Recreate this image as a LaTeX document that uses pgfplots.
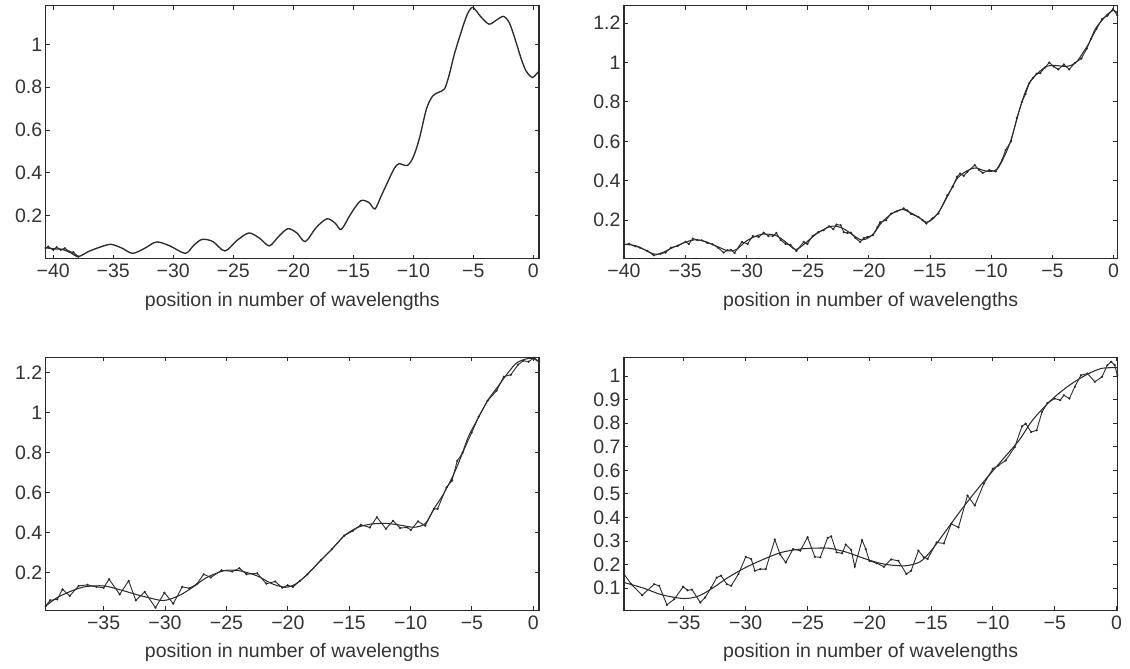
\documentclass[border=0pt]{standalone}
\usepackage{pgfplots}
\pgfplotsset{compat=1.18}
\usepackage{fontspec}
\setmainfont{Liberation Sans}
\definecolor{ink}{HTML}{2b2b2b}
\definecolor{txt}{HTML}{333333}

\pgfplotsset{
  panel/.style={
    scale only axis, width=493.3pt, height=253pt,
    anchor=north west,
    axis line style={ink, line width=1.3pt},
    every tick/.style={ink, line width=1pt},
    major tick length=4pt,
    tick align=inside,
    font=\fontsize{19.5}{23}\selectfont,
    ticklabel style={text=txt, font=\fontsize{19.5}{23}\selectfont},
    xticklabel style={yshift=-2pt},
    xlabel={position in number of wavelengths},
    xlabel style={text=txt, font=\fontsize{19.5}{23}\selectfont, yshift=-7pt},
    axis on top,
  },
  sm/.style={ink, line width=1.05pt, smooth, tension=0.5, no marks},
  nz/.style={ink, line width=0.9pt, sharp plot, mark=*, mark size=0.6pt, mark options={ink}},
}

\begin{document}
\begin{tikzpicture}[x=1pt,y=1pt]
\path[use as bounding box] (0,0) rectangle (1130,-669);

% ---------------- Panel 1 ----------------
\begin{axis}[panel, at={(45.7pt,-5.7pt)},
  xmin=-40.63, xmax=0.47, ymin=0, ymax=1.18,
  xtick={-40,-35,-30,-25,-20,-15,-10,-5,0},
  xticklabels={−40,−35,−30,−25,−20,−15,−10,−5,0},
  ytick={0.2,0.4,0.6,0.8,1},
  yticklabels={0.2,0.4,0.6,0.8,1}]
\addplot[sm, line width=1.35pt] coordinates {
(-40.63,0.052) (-40,0.046) (-39.3,0.044) (-38.6,0.03) (-37.92,0.01) (-37,0.035)
(-36,0.056) (-35.2,0.067) (-34.3,0.05) (-33.4,0.025) (-32.4,0.048) (-31.4,0.078)
(-30.3,0.06) (-29.0,0.025) (-28.3,0.062) (-27.6,0.09) (-26.7,0.08) (-25.7,0.036)
(-24.7,0.085) (-23.7,0.12) (-22.8,0.095) (-22.0,0.06) (-21.2,0.105) (-20.45,0.14)
(-19.7,0.12) (-19.0,0.08) (-18.1,0.145) (-17.2,0.186) (-16.5,0.165) (-16.0,0.137)
(-15.2,0.21) (-14.4,0.27) (-13.7,0.262) (-13.2,0.232) (-12.7,0.29) (-12.2,0.35)
(-11.6,0.42) (-11.2,0.443) (-10.5,0.435) (-10.0,0.475) (-9.5,0.56) (-8.9,0.7)
(-8.4,0.758) (-7.95,0.775) (-7.4,0.792) (-7.0,0.86) (-6.6,0.95) (-6.0,1.06)
(-5.5,1.14) (-5.05,1.172) (-4.4,1.13) (-3.7,1.094) (-3.1,1.112) (-2.5,1.13)
(-2.0,1.1) (-1.5,1.02) (-1.0,0.93) (-0.6,0.875) (-0.1,0.845) (0.2,0.858) (0.47,0.875)
};
\addplot[nz] coordinates {
(-40.63,0.05) (-40.42,0.056) (-40.0,0.041) (-39.72,0.054) (-39.38,0.041)
(-39.03,0.049) (-38.67,0.033) (-38.33,0.03) (-37.92,0.01)
};
\end{axis}

% ---------------- Panel 2 ----------------
\begin{axis}[panel, at={(624pt,-5.7pt)},
  xmin=-40, xmax=0.3, ymin=0.005, ymax=1.288,
  xtick={-40,-35,-30,-25,-20,-15,-10,-5,0},
  xticklabels={−40,−35,−30,−25,−20,−15,−10,−5,0},
  ytick={0.2,0.4,0.6,0.8,1,1.2},
  yticklabels={0.2,0.4,0.6,0.8,1,1.2}]
\addplot[sm] coordinates {
(-40,0.078) (-39,0.07) (-38,0.04) (-37.5,0.028) (-37,0.032) (-36,0.062)
(-35,0.088) (-34.3,0.1) (-33.5,0.095) (-32.5,0.07) (-31.5,0.045) (-30.8,0.052)
(-30,0.095) (-29,0.125) (-28.3,0.13) (-27.5,0.12) (-26.8,0.09) (-26,0.052)
(-25.3,0.078) (-24.3,0.13) (-23.3,0.165) (-22.7,0.17) (-22,0.155) (-21.3,0.125)
(-20.6,0.1) (-20,0.112) (-19.5,0.14) (-19,0.185) (-18.2,0.23) (-17.3,0.255)
(-16.5,0.235) (-15.8,0.21) (-15.3,0.19) (-14.8,0.205) (-14.2,0.25) (-13.5,0.33)
(-12.8,0.41) (-12,0.45) (-11.3,0.465) (-10.6,0.452) (-10,0.448) (-9.5,0.46)
(-9.0,0.515) (-8.4,0.605) (-7.5,0.8) (-6.9,0.895) (-6.3,0.94) (-5.5,0.98)
(-4.8,0.985) (-4,0.98) (-3.5,0.985) (-3,1.005) (-2.5,1.05) (-2,1.1)
(-1.5,1.17) (-1,1.21) (-0.5,1.245) (0,1.265) (0.3,1.25)
};
\addplot[nz] coordinates {
(-40.0,0.076) (-39.58,0.081) (-39.1,0.068) (-38.69,0.061) (-38.1,0.045) (-37.56,0.022)
(-37.0,0.03) (-36.61,0.036) (-36.17,0.061) (-35.6,0.07) (-34.98,0.09) (-34.7,0.08)
(-34.38,0.107) (-34.0,0.1) (-33.64,0.098) (-33.2,0.085) (-32.75,0.078) (-32.3,0.06)
(-31.86,0.036) (-31.55,0.048) (-31.26,0.05) (-30.97,0.034) (-30.37,0.09) (-29.9,0.08)
(-29.48,0.12) (-29.0,0.115) (-28.59,0.137) (-28.2,0.12) (-27.85,0.12) (-27.55,0.135)
(-27.2,0.1) (-26.81,0.08) (-26.4,0.075) (-25.91,0.044) (-25.32,0.09) (-25.02,0.08)
(-24.6,0.12) (-24.13,0.14) (-23.7,0.15) (-23.24,0.17) (-22.9,0.155) (-22.64,0.178)
(-22.3,0.175) (-22.05,0.14) (-21.75,0.135) (-21.46,0.137) (-21.1,0.11) (-20.71,0.09)
(-20.4,0.11) (-20.12,0.115) (-19.67,0.124) (-19.3,0.165) (-19.08,0.19) (-18.6,0.2)
(-18.19,0.234) (-17.7,0.245) (-17.15,0.26) (-16.85,0.25) (-16.55,0.232) (-15.96,0.217)
(-15.6,0.2) (-15.30,0.183) (-14.8,0.21) (-14.32,0.234) (-13.58,0.327) (-13.14,0.37)
(-12.8,0.42) (-12.54,0.437) (-12.25,0.425) (-11.95,0.446) (-11.35,0.48) (-11.0,0.455)
(-10.70,0.44) (-10.16,0.454) (-9.63,0.448) (-9.12,0.505) (-8.83,0.556) (-8.38,0.6)
(-7.9,0.72) (-7.49,0.8) (-7.2,0.84) (-6.89,0.895) (-6.6,0.92) (-6.30,0.942)
(-6.0,0.946) (-5.6,0.975) (-5.26,1.0) (-4.9,0.98) (-4.52,0.965) (-4.07,0.99)
(-3.63,0.965) (-3.18,0.997) (-2.64,1.02) (-2.2,1.07) (-1.84,1.12) (-1.4,1.17)
(-0.95,1.22) (-0.5,1.238) (-0.06,1.27) (0.3,1.24)
};
\end{axis}

% ---------------- Panel 3 ----------------
\begin{axis}[panel, at={(45.7pt,-357.3pt)},
  xmin=-39.72, xmax=0.46, ymin=0.013, ymax=1.277,
  xtick={-35,-30,-25,-20,-15,-10,-5,0},
  xticklabels={−35,−30,−25,−20,−15,−10,−5,0},
  ytick={0.2,0.4,0.6,0.8,1,1.2},
  yticklabels={0.2,0.4,0.6,0.8,1,1.2}]
\addplot[sm] coordinates {
(-39.72,0.034) (-38.8,0.076) (-37.6,0.11) (-36.5,0.131) (-35,0.135) (-33.8,0.118)
(-32.4,0.093) (-31.2,0.074) (-30.1,0.062) (-28.9,0.085) (-27.7,0.13) (-26.6,0.177)
(-25.1,0.212) (-23.9,0.21) (-22.5,0.185) (-21.3,0.146) (-20.2,0.128) (-19.4,0.143)
(-18.4,0.193) (-17.3,0.264) (-16.4,0.319) (-15.4,0.386) (-14.3,0.427) (-13.2,0.444)
(-12,0.447) (-10.9,0.439) (-9.7,0.428) (-8.8,0.447) (-8.1,0.52) (-7.4,0.586)
(-6.6,0.678) (-5.9,0.779) (-5.3,0.879) (-4.6,0.962) (-3.7,1.063) (-2.8,1.138)
(-2.1,1.197) (-1.4,1.247) (-0.7,1.267) (-0.1,1.272) (0.46,1.255)
};
\addplot[nz] coordinates {
(-39.72,0.034) (-39.36,0.063) (-38.78,0.068) (-38.35,0.118) (-37.76,0.085)
(-37.04,0.135) (-36.31,0.14) (-35.58,0.13) (-35.0,0.126) (-34.56,0.168)
(-33.69,0.093) (-32.96,0.16) (-32.38,0.063) (-31.65,0.105) (-30.78,0.026)
(-30.05,0.101) (-29.33,0.046) (-28.6,0.13) (-28.02,0.123) (-27.4,0.145) (-26.85,0.193)
(-26.27,0.177) (-25.4,0.213) (-24.53,0.207) (-23.94,0.223) (-23.36,0.193)
(-22.49,0.198) (-21.76,0.146) (-21.03,0.157) (-20.45,0.126) (-20.02,0.138)
(-19.58,0.13) (-19.0,0.16) (-18.4,0.193) (-17.3,0.264) (-16.4,0.319) (-15.4,0.386)
(-14.7,0.41) (-14.05,0.44) (-13.32,0.427) (-12.74,0.478) (-12.01,0.42) (-11.43,0.46)
(-10.85,0.424) (-10.27,0.427) (-9.98,0.414) (-9.4,0.457) (-8.81,0.436) (-8.09,0.52)
(-7.8,0.52) (-7.07,0.628) (-6.63,0.66) (-6.2,0.76) (-5.76,0.8) (-5.03,0.9)
(-4.45,0.98) (-3.73,1.06) (-3.0,1.11) (-2.41,1.18) (-1.83,1.19) (-1.25,1.24)
(-0.81,1.26) (-0.38,1.255) (0.06,1.275) (0.46,1.255)
};
\end{axis}

% ---------------- Panel 4 ----------------
\begin{axis}[panel, at={(624pt,-357.3pt)},
  xmin=-39.85, xmax=0.06, ymin=0.006, ymax=1.08,
  xtick={-35,-30,-25,-20,-15,-10,-5,0},
  xticklabels={−35,−30,−25,−20,−15,−10,−5,0},
  ytick={0.1,0.2,0.3,0.4,0.5,0.6,0.7,0.8,0.9,1},
  yticklabels={0.1,0.2,0.3,0.4,0.5,0.6,0.7,0.8,0.9,1}]
\addplot[sm] coordinates {
(-39.85,0.124) (-38.2,0.099) (-36.8,0.072) (-35,0.056) (-33.8,0.067) (-32.6,0.103)
(-31.5,0.143) (-30,0.188) (-28.5,0.224) (-27.1,0.252) (-25.6,0.266) (-24.4,0.27)
(-23.2,0.269) (-21.8,0.252) (-20.3,0.224) (-18.8,0.202) (-17.1,0.195) (-15.9,0.212)
(-15,0.259) (-13.8,0.344) (-12.4,0.444) (-10.9,0.543) (-9.4,0.635) (-7.9,0.727)
(-6.8,0.813) (-5.3,0.898) (-3.8,0.962) (-2.4,1.007) (-1.2,1.033) (0.06,1.036)
};
\addplot[nz] coordinates {
(-39.85,0.16) (-39.26,0.117) (-38.38,0.07) (-37.41,0.117) (-37.0,0.11) (-36.38,0.029)
(-35.79,0.053) (-35.06,0.106) (-34.71,0.091) (-34.35,0.094) (-33.68,0.039) (-33.29,0.06)
(-32.79,0.103) (-32.35,0.145) (-32.0,0.153) (-31.53,0.117) (-31.18,0.11) (-30.59,0.16)
(-30.0,0.233) (-29.56,0.224) (-29.26,0.174) (-28.82,0.181) (-28.38,0.181) (-27.65,0.306)
(-27.21,0.242) (-26.76,0.209) (-26.18,0.266) (-25.59,0.259) (-25.0,0.316) (-24.41,0.233)
(-23.97,0.231) (-23.38,0.313) (-23.09,0.32) (-22.65,0.252) (-22.21,0.248) (-21.91,0.285)
(-21.47,0.262) (-21.18,0.191) (-20.59,0.304) (-20.29,0.266) (-20.0,0.216) (-19.41,0.206)
(-18.82,0.191) (-18.24,0.222) (-17.65,0.216) (-17.0,0.16) (-16.62,0.174) (-16.03,0.259)
(-15.59,0.231) (-15.29,0.224) (-14.56,0.294) (-13.97,0.29) (-13.38,0.373) (-12.79,0.358)
(-12.06,0.493) (-11.47,0.451) (-10.74,0.543) (-10.0,0.607) (-9.56,0.621) (-8.97,0.642)
(-8.24,0.699) (-7.65,0.787) (-7.35,0.798) (-6.91,0.763) (-6.47,0.77) (-6.03,0.848)
(-5.59,0.886) (-5.0,0.905) (-4.56,0.898) (-4.26,0.919) (-3.82,0.905) (-3.38,0.955)
(-2.88,1.004) (-2.35,1.011) (-1.76,0.976) (-1.18,0.997) (-0.74,1.047) (-0.44,1.061)
(-0.15,1.047) (0.06,1.005)
};
\end{axis}
\end{tikzpicture}
\end{document}
